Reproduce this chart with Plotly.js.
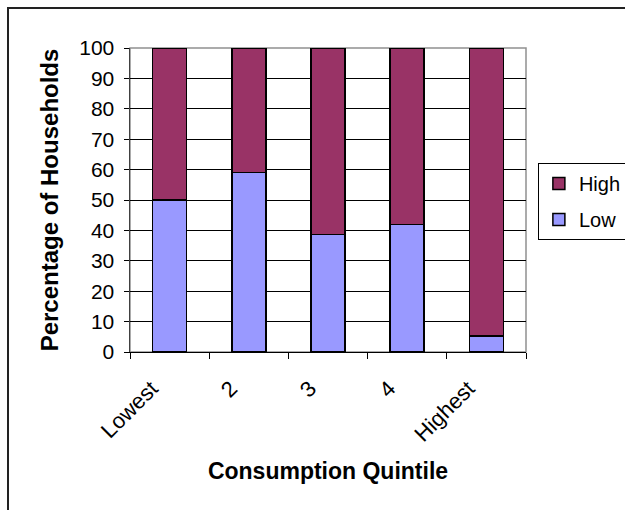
<!DOCTYPE html>
<html>
<head>
<meta charset="utf-8">
<script src="https://cdn.plot.ly/plotly-3.0.1.min.js"></script>
<style>
  html, body { margin: 0; padding: 0; background: #fff; overflow: hidden; }
  #chart { width: 625px; height: 510px; }
  #frame {
    position: absolute; left: 7px; top: 7px; width: 700px; height: 600px;
    border: 2px solid #222; pointer-events: none;
  }
</style>
</head>
<body>
<div id="chart"></div>
<div id="frame"></div>
<script>
// Share of households in each consumption quintile (percent)
const quintiles = ["Lowest", "2", "3", "4", "Highest"];
const lowShare  = [50, 59, 38.7, 42, 5.3];
const highShare = [50, 41, 61.3, 58, 94.7];

const fontFamily = "Liberation Sans, Arial, sans-serif";
const outline = { color: "#000", width: 1.5 };

const traces = [
  {
    type: "bar", name: "Low", legendgroup: "low", legendrank: 2,
    x: quintiles, y: lowShare,
    marker: { color: "#9999FF", line: outline },
    hoverinfo: "x+y+name"
  },
  {
    type: "bar", name: "High", legendgroup: "high", legendrank: 1,
    x: quintiles, y: highShare,
    marker: { color: "#993366", line: outline },
    hoverinfo: "x+y+name"
  }
];

const layout = {
  width: 625, height: 510,
  margin: { l: 130, r: 99, t: 48, b: 158, autoexpand: false },
  paper_bgcolor: "#fff", plot_bgcolor: "#fff",
  barmode: "stack", bargap: 0.57,
  font: { family: fontFamily, size: 20, color: "#000" },
  xaxis: {
    type: "category",
    tickangle: -45,
    tickson: "boundaries",
    ticks: "outside", ticklen: 6, tickcolor: "#000", tickwidth: 1,
    ticklabelstandoff: 14,
    ticklabelshift: -18,
    showline: true, linecolor: "#000", linewidth: 1,
    showgrid: false, zeroline: false,
    tickfont: { size: 22 },
    title: { text: "<b>Consumption Quintile</b>", font: { size: 23 }, standoff: 17 }
  },
  yaxis: {
    range: [0, 100], dtick: 10,
    ticks: "outside", ticklen: 5, tickcolor: "#000", tickwidth: 1,
    ticklabelstandoff: 5,
    showline: true, linecolor: "#404040", linewidth: 1.5,
    showgrid: true, gridcolor: "#000", gridwidth: 1,
    zeroline: false,
    tickfont: { size: 21 },
    title: { text: "<b>Percentage of Households</b>", font: { size: 24 }, standoff: 14 }
  },
  shapes: [
    {
      type: "rect", xref: "paper", yref: "paper", x0: 0, x1: 1, y0: 0, y1: 1,
      line: { color: "#909090", width: 1.5 }, layer: "below"
    }
  ],
  legend: {
    x: 1.03, y: 0.622, xanchor: "left", yanchor: "top",
    traceorder: "grouped", tracegroupgap: 7,
    bordercolor: "#000", borderwidth: 1, bgcolor: "#fff",
    font: { size: 20 },
    itemwidth: 30
  },
  showlegend: true
};

Plotly.newPlot("chart", traces, layout, { displayModeBar: false, staticPlot: true });
</script>
</body>
</html>
